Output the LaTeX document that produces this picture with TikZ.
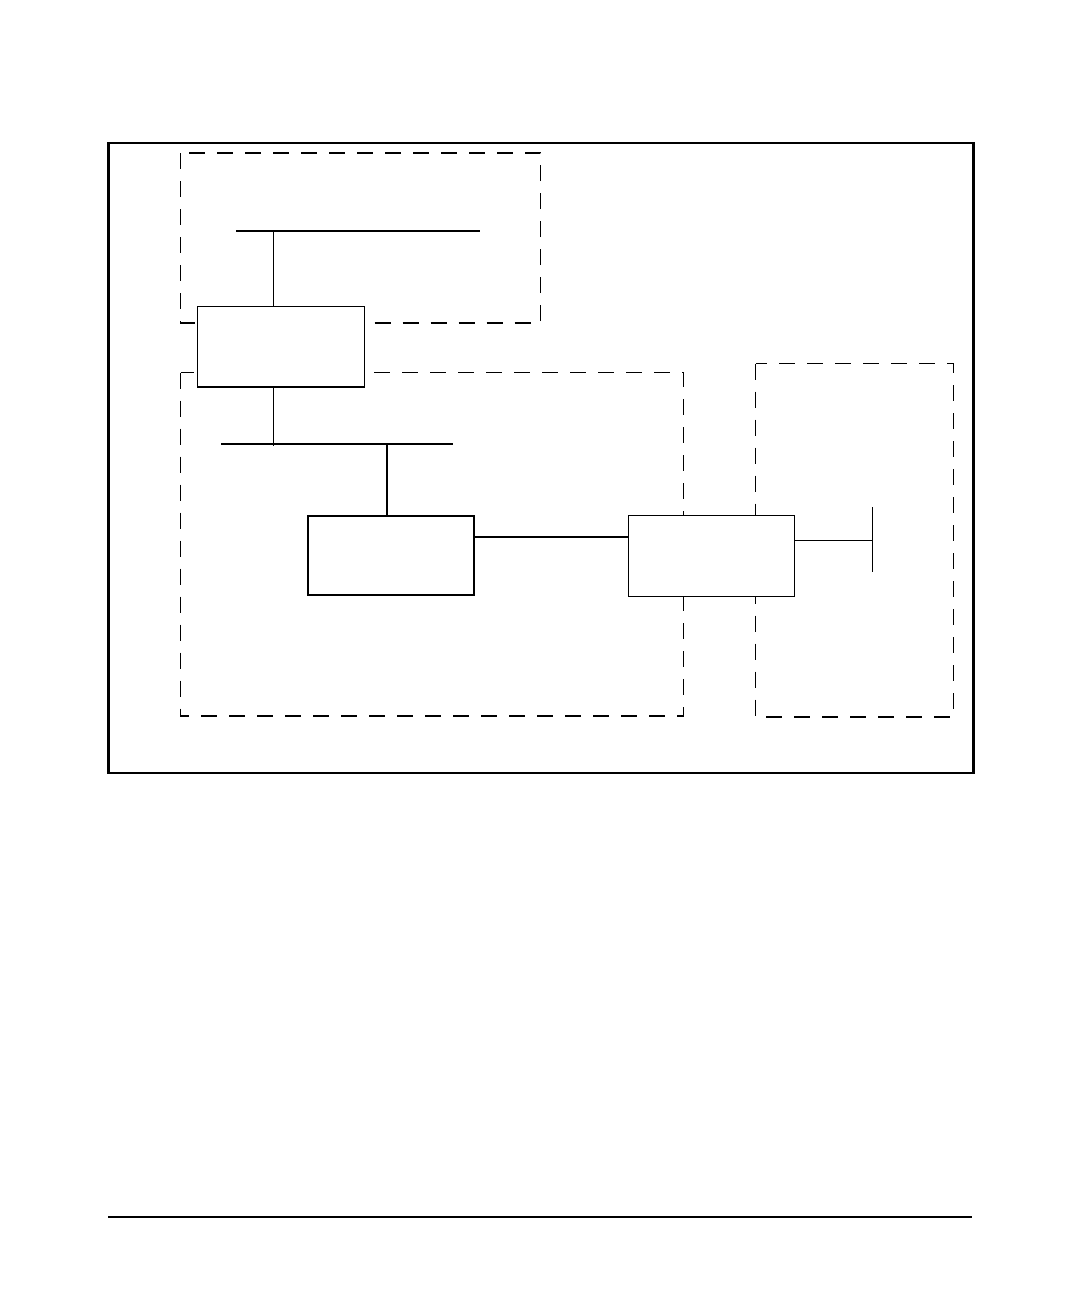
\documentclass[tikz,border=0pt]{standalone}
\begin{document}
\begin{tikzpicture}[x=1pt,y=-1pt,
  thinline/.style={line width=1.3pt},
  frameline/.style={line width=2.3pt},
  zone/.style={line width=1.3pt,dash pattern=on 16pt off 12pt},
  unit/.style={draw,line width=1.3pt,fill=white,rectangle,inner sep=0pt,outer sep=0pt}]
\useasboundingbox (0,0) rectangle (1080,1296);
% outer frame
\draw[frameline] (108.5,143) rectangle (973.5,773);
% dashed zones
\draw[zone] (180.5,153) rectangle (540.5,323);
\draw[zone] (180.5,372.5) rectangle (683.5,716);
\draw[zone] (755.5,363.5) rectangle (953.5,717);
% buses
\coordinate (b1l) at (236,231);
\coordinate (b1r) at (480,231);
\coordinate (b1t) at (273.3,231);
\draw[thinline] (b1l) -- (b1r);
\coordinate (b2l) at (221,444);
\coordinate (b2r) at (453,444);
\coordinate (b2t) at (273.3,446);
\coordinate (b2u) at (387,444);
\draw[thinline] (b2l) -- (b2r);
% units
\node[unit,minimum width=167pt,minimum height=80.5pt] (A) at (280.8,346.7) {};
\node[unit,minimum width=166pt,minimum height=79pt] (B) at (391,555.5) {};
\node[unit,minimum width=166pt,minimum height=81pt] (C) at (711.3,555.7) {};
% terminal bar
\coordinate (tt) at (872.3,507);
\coordinate (tb) at (872.3,571.7);
\coordinate (tm) at (872.3,540.3);
\draw[thinline] (tt) -- (tb);
% connectors
\draw[thinline] (b1t) -- (b1t |- A.north);
\draw[thinline] (A.south -| b2t) -- (b2t);
\draw[thinline] (b2u) -- (b2u |- B.north);
\coordinate (bc) at (550,537);
\draw[thinline] (B.east |- bc) -- (C.west |- bc);
\draw[thinline] (C.east |- tm) -- (tm);
% footer rule
\coordinate (fl) at (108.3,1217);
\coordinate (fr) at (971.7,1217);
\draw[line width=1.6pt] (fl) -- (fr);
\end{tikzpicture}
\end{document}
